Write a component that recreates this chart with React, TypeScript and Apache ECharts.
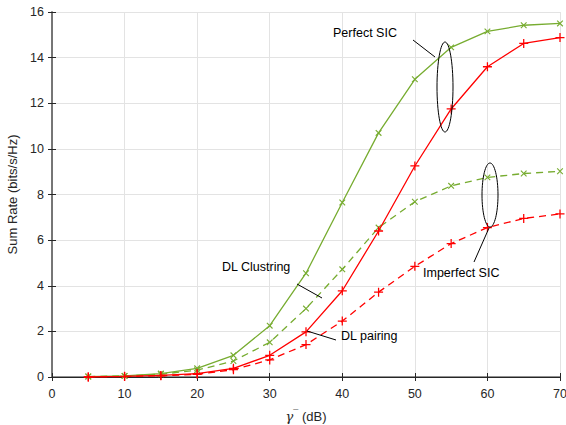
import React, { useEffect, useRef } from "react";
import * as echarts from "echarts";

const xValues = [5, 10, 15, 20, 25, 30, 35, 40, 45, 50, 55, 60, 65, 70];
const clusteringPerfect = [0.02, 0.05, 0.15, 0.38, 0.95, 2.25, 4.55, 7.65, 10.7, 13.05, 14.45, 15.15, 15.42, 15.5];
const pairingPerfect = [0.0, 0.03, 0.07, 0.15, 0.38, 0.95, 1.98, 3.78, 6.4, 9.25, 11.75, 13.6, 14.62, 14.88];
const clusteringImperfect = [0.02, 0.05, 0.12, 0.3, 0.7, 1.52, 3.0, 4.72, 6.55, 7.68, 8.38, 8.75, 8.92, 9.02];
const pairingImperfect = [0.0, 0.02, 0.05, 0.12, 0.32, 0.75, 1.42, 2.45, 3.72, 4.85, 5.85, 6.55, 6.95, 7.15];

const GREEN = "#77AC30";
const RED = "#FF0000";
const PLUS = "path://M0,4.3H10V5.7H0Z M4.3,0H5.7V10H4.3Z";
const FONT = "Liberation Sans, Arial, Helvetica, sans-serif";

const pairs = (ys: number[]) => xValues.map((x, i) => [x, ys[i]]);

export default function App() {
  const ref = useRef<HTMLDivElement>(null);
  useEffect(() => {
    if (!ref.current) return;
    const chart = echarts.init(ref.current, undefined, { renderer: "svg" });
    const axisCommon = {
      axisLine: { show: true, lineStyle: { color: "#6e6e6e", width: 1.5 } },
      axisTick: { show: true, inside: true, length: 4, lineStyle: { color: "#262626" } },
      axisLabel: { color: "#262626", fontSize: 12.5, fontFamily: FONT },
    };
    const mkSeries = (name: string, ys: number[], color: string, dashed: boolean, plus: boolean) => ({
      name,
      type: "line",
      data: pairs(ys),
      symbol: PLUS,
      symbolSize: plus ? 9 : 8,
      symbolRotate: plus ? 0 : 45,
      showSymbol: true,
      lineStyle: { color, width: 1.3, type: dashed ? [7, 5] : "solid" },
      itemStyle: { color },
      z: plus ? 3 : 2,
    });
    const txt = { fill: "#000", fontSize: 12.5, fontFamily: FONT, verticalAlign: "middle" };
    chart.setOption({
      animation: false,
      backgroundColor: "#ffffff",
      grid: { left: 52, right: 6, top: 12, bottom: 48, containLabel: false, outerBoundsMode: "none" },
      xAxis: [
        {
          type: "value",
          min: 0,
          max: 70,
          interval: 10,
          ...axisCommon,
          axisLabel: { ...axisCommon.axisLabel, margin: 10 },
          splitLine: { show: true, lineStyle: { color: "#e3e3e3", width: 1 } },
          name: "{g|γ}{s|¯} (dB)",
          nameLocation: "middle",
          nameGap: 31,
          nameTextStyle: {
            color: "#262626",
            fontSize: 13,
            fontFamily: FONT,
            rich: {
              g: { fontFamily: "DejaVu Serif, serif", fontStyle: "italic", fontSize: 13, color: "#262626" },
              s: { fontSize: 9, verticalAlign: "top", color: "#262626", padding: [0, 0, 8, 0] },
            },
          },
        },
        {
          type: "value",
          position: "top",
          min: 0,
          max: 70,
          interval: 10,
          axisLine: { show: true, lineStyle: { color: "#262626", width: 1 } },
          axisTick: { show: true, inside: true, length: 4, lineStyle: { color: "#262626" } },
          axisLabel: { show: false },
          splitLine: { show: false },
        },
      ],
      yAxis: [
        {
          type: "value",
          min: 0,
          max: 16,
          interval: 2,
          ...axisCommon,
          axisLabel: { ...axisCommon.axisLabel, margin: 8 },
          splitLine: { show: true, lineStyle: { color: "#e3e3e3", width: 1 } },
          name: "Sum Rate (bits/s/Hz)",
          nameLocation: "middle",
          nameGap: 27,
          nameTextStyle: { color: "#262626", fontSize: 13, fontFamily: FONT },
        },
        {
          type: "value",
          position: "right",
          min: 0,
          max: 16,
          interval: 2,
          axisLine: { show: true, lineStyle: { color: "#6e6e6e", width: 1.5 } },
          axisTick: { show: true, inside: true, length: 4, lineStyle: { color: "#262626" } },
          axisLabel: { show: false },
          splitLine: { show: false },
        },
      ],
      series: [
        mkSeries("DL Clustering imperfect", clusteringImperfect, GREEN, true, false),
        mkSeries("DL pairing imperfect", pairingImperfect, RED, true, true),
        mkSeries("DL Clustering perfect", clusteringPerfect, GREEN, false, false),
        mkSeries("DL pairing perfect", pairingPerfect, RED, false, true),
      ],
      graphic: [
        { type: "ellipse", shape: { cx: 445, cy: 87, rx: 8, ry: 45 }, style: { fill: "none", stroke: "#000", lineWidth: 1 }, z: 10 },
        { type: "ellipse", shape: { cx: 490, cy: 195, rx: 8, ry: 32 }, style: { fill: "none", stroke: "#000", lineWidth: 1 }, z: 10 },
        { type: "line", shape: { x1: 413, y1: 40, x2: 435, y2: 57 }, style: { stroke: "#000", lineWidth: 1 }, z: 10 },
        { type: "line", shape: { x1: 489, y1: 228, x2: 474, y2: 262 }, style: { stroke: "#000", lineWidth: 1 }, z: 10 },
        { type: "line", shape: { x1: 297, y1: 284, x2: 322, y2: 298 }, style: { stroke: "#000", lineWidth: 1 }, z: 10 },
        { type: "line", shape: { x1: 307, y1: 331, x2: 336, y2: 340 }, style: { stroke: "#000", lineWidth: 1 }, z: 10 },
        { type: "text", x: 333, y: 33, style: { text: "Perfect SIC", ...txt }, z: 10 },
        { type: "text", x: 423, y: 273, style: { text: "Imperfect SIC", ...txt }, z: 10 },
        { type: "text", x: 222, y: 267, style: { text: "DL Clustring", ...txt }, z: 10 },
        { type: "text", x: 341, y: 336, style: { text: "DL pairing", ...txt }, z: 10 },
      ],
    });
    return () => chart.dispose();
  }, []);
  return <div ref={ref} style={{ width: 566, height: 425, position: "absolute", left: 0, top: 0 }} />;
}
